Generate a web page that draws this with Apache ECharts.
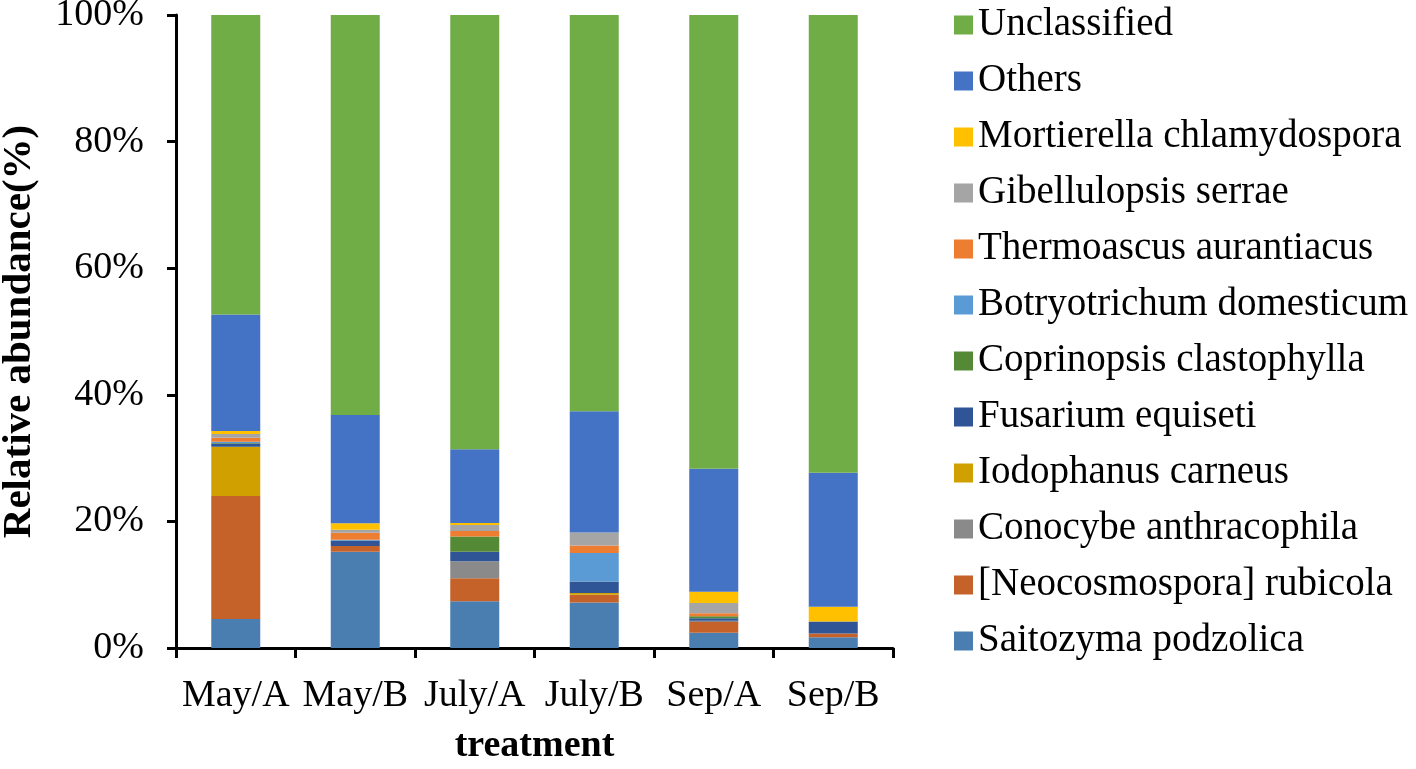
<!DOCTYPE html>
<html>
<head>
<meta charset="utf-8">
<script src="https://cdn.jsdelivr.net/npm/echarts@6/dist/echarts.min.js"></script>
<style>html,body{margin:0;padding:0;background:#fff;overflow:hidden}#chart{width:1416px;height:769px}</style>
</head>
<body>
<div id="chart"></div>
<script>
const categories = ['May/A', 'May/B', 'July/A', 'July/B', 'Sep/A', 'Sep/B'];
const yTicks = [0, 20, 40, 60, 80, 100];

const saitozyma     = [4.6, 15.2, 7.4, 7.2, 2.4, 1.7];
const neocosmospora = [19.4, 0.9, 3.6, 1.2, 1.7, 0.6];
const conocybe      = [0, 0, 2.7, 0, 0.2, 0];
const iodophanus    = [7.8, 0, 0, 0.3, 0, 0];
const fusarium      = [0.5, 0.9, 1.5, 1.8, 0.4, 1.9];
const coprinopsis   = [0.1, 0, 2.4, 0, 0.3, 0];
const botryotrichum = [0.2, 0.1, 0, 4.5, 0, 0];
const thermoascus   = [0.6, 1.1, 0.9, 1.2, 0.5, 0];
const gibellulopsis = [0.6, 0.5, 0.95, 2.05, 1.6, 0];
const mortierella   = [0.5, 1.0, 0.3, 0, 1.8, 2.3];
const others        = [18.4, 17.1, 11.65, 19.15, 19.4, 21.2];
const unclassified  = [47.3, 63.2, 68.6, 62.6, 71.7, 72.3];

const seriesDefs = [
  ['Saitozyma podzolica', saitozyma, '#4A7EB0'],
  ['[Neocosmospora] rubicola', neocosmospora, '#C5622A'],
  ['Conocybe anthracophila', conocybe, '#8A8A8A'],
  ['Iodophanus carneus', iodophanus, '#CFA000'],
  ['Fusarium equiseti', fusarium, '#2F5597'],
  ['Coprinopsis clastophylla', coprinopsis, '#548A35'],
  ['Botryotrichum domesticum', botryotrichum, '#5B9BD5'],
  ['Thermoascus aurantiacus', thermoascus, '#ED7D31'],
  ['Gibellulopsis serrae', gibellulopsis, '#A5A5A5'],
  ['Mortierella chlamydospora', mortierella, '#FFC000'],
  ['Others', others, '#4472C4'],
  ['Unclassified', unclassified, '#70AD47']
];

const FONT = "'Liberation Serif', 'Times New Roman', serif";
const chart = echarts.init(document.getElementById('chart'), null, {renderer: 'canvas'});
chart.setOption({
  animation: false,
  backgroundColor: '#fff',
  grid: {left: 176, right: 523, top: 15, bottom: 121, containLabel: false, outerBoundsMode: 'none'},
  legend: {
    orient: 'vertical',
    left: 949,
    top: 0,
    itemWidth: 19,
    itemHeight: 19,
    itemGap: 16,
    itemStyle: {borderWidth: 0},
    icon: 'rect',
    data: seriesDefs.map(d => d[0]).reverse(),
    textStyle: {fontFamily: FONT, fontSize: 39, color: '#000', lineHeight: 40}
  },
  xAxis: {
    type: 'category',
    data: categories,
    name: 'treatment',
    nameLocation: 'middle',
    nameGap: 98,
    nameTextStyle: {fontFamily: FONT, fontSize: 38, fontWeight: 'bold', color: '#000', verticalAlign: 'middle'},
    axisLine: {lineStyle: {color: '#000', width: 3}},
    axisTick: {show: true, length: 10, lineStyle: {color: '#000', width: 3}},
    axisLabel: {fontFamily: FONT, fontSize: 38, color: '#000', margin: 29, interval: 0}
  },
  yAxis: {
    type: 'value',
    min: 0,
    max: 100,
    interval: 20,
    name: 'Relative abundance(%)',
    nameLocation: 'middle',
    nameGap: 136,
    nameRotate: 90,
    nameTextStyle: {fontFamily: FONT, fontSize: 41, fontWeight: 'bold', color: '#000'},
    splitLine: {show: false},
    axisLine: {show: true, lineStyle: {color: '#000', width: 3}},
    axisTick: {show: true, length: 9, lineStyle: {color: '#000', width: 3}},
    axisLabel: {fontFamily: FONT, fontSize: 38, color: '#000', margin: 32,
      formatter: v => yTicks.includes(v) ? v + '%' : ''}
  },
  series: seriesDefs.map(([name, data, color]) => ({
    name, type: 'bar', stack: 'total', data,
    barWidth: 49,
    itemStyle: {color},
    emphasis: {disabled: true}
  }))
});
</script>
</body>
</html>
